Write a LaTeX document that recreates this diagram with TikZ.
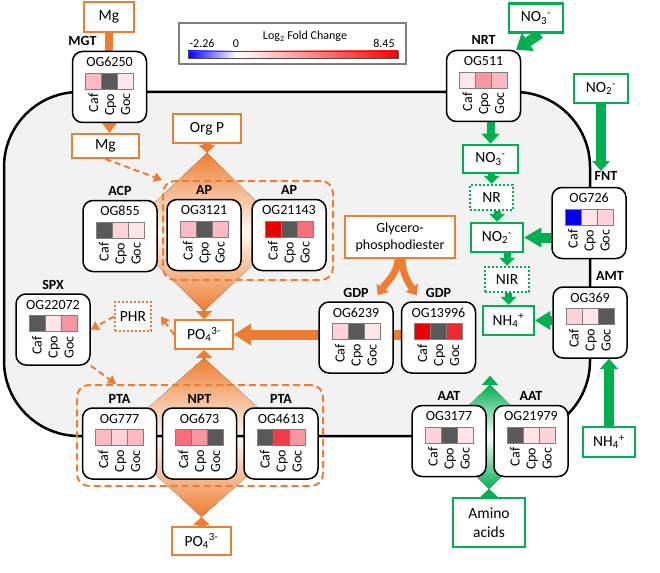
\documentclass[tikz,border=0pt]{standalone}
\usepackage{fontspec}
\setmainfont{Carlito}
\usepackage{xcolor}
\definecolor{orng}{RGB}{237,125,49}
\definecolor{grn}{RGB}{0,176,80}
\definecolor{memb}{RGB}{242,242,242}
\definecolor{cgray}{RGB}{89,89,89}
\definecolor{pa}{RGB}{255,228,232}
\definecolor{pb}{RGB}{255,210,216}
\definecolor{pc}{RGB}{252,185,193}
\definecolor{pd}{RGB}{248,150,160}
\definecolor{pe}{RGB}{246,110,120}
\definecolor{pf}{RGB}{240,60,70}
\definecolor{pg}{RGB}{240,40,50}
\definecolor{cred}{RGB}{235,0,0}
\definecolor{cblue}{RGB}{0,0,235}
\usepackage{tikz}
\usetikzlibrary{arrows.meta,positioning,calc,backgrounds}

\newcommand{\genebox}[6]{%
  \node[gb] (#1) at (#2) {};
  \node[gt] (#1-n) at ([yshift=25pt]#1.center) {#3};
  \node[cell,fill=#5] (#1-b) at ([yshift=6pt]#1.center) {};
  \node[cell,fill=#4] (#1-a) at ([xshift=-16pt]#1-b.center) {};
  \node[cell,fill=#6] (#1-c) at ([xshift=16pt]#1-b.center) {};
  \node[sp] (#1-x) at ([yshift=-12.5pt]#1-a.center) {Caf};
  \node[sp] (#1-y) at ([yshift=-12.5pt]#1-b.center) {Cpo};
  \node[sp] (#1-z) at ([yshift=-12.5pt]#1-c.center) {Goc};
}

\begin{document}
\begin{tikzpicture}[x=1pt,y=-1pt,
    gb/.style={draw,line width=1.5pt,fill=white,rounded corners=10pt,
               minimum width=74pt,minimum height=71pt},
    gt/.style={inner sep=0pt,text height=9pt,text depth=0pt,font=\fontsize{14}{16}\selectfont},
    cell/.style={draw=gray,line width=0.8pt,minimum size=16pt,inner sep=0pt},
    sp/.style={rotate=90,anchor=east,inner sep=0pt,text height=9pt,text depth=0pt,
               font=\fontsize{14}{16}\selectfont},
    tag/.style={inner sep=0pt,text height=9pt,text depth=0pt,font=\fontsize{14}{16}\selectfont\bfseries},
    ob/.style={draw=orng,line width=2pt,fill=white,inner sep=0pt,font=\fontsize{15.5}{17}\selectfont},
    gbx/.style={draw=grn,line width=2.5pt,fill=white,inner sep=0pt,font=\fontsize{15.5}{17}\selectfont},
    dotb/.style={dash pattern=on 2pt off 2pt},
    grp/.style={draw=orng,line width=2pt,dash pattern=on 7pt off 4pt,rounded corners=12pt},
    oarr/.style={draw=orng,line width=8pt,-{Triangle[length=10pt,width=18pt,line width=0pt]}},
    garr/.style={draw=grn,line width=8pt,-{Triangle[length=10pt,width=18pt,line width=0pt]}},
    odash/.style={draw=orng,line width=2pt,dash pattern=on 6pt off 4pt,
                  -{Triangle[length=8pt,width=10pt,line width=0pt]}}]
  \useasboundingbox (0,0) rectangle (660,572);
  \coordinate (mnw) at (4,92);
  \coordinate (mse) at (590,436);
  \begin{scope}[on background layer]
    \fill[memb,rounded corners=75pt] (mnw) rectangle (mse);
  \end{scope}

  \node[draw=gray,line width=1.5pt,fill=white,minimum width=227pt,minimum height=41pt,inner sep=0pt]
    (leg) at (292.5,43.5) {};
  \node[gt,font=\fontsize{12}{14}\selectfont] (leg-t) at (305,35) {Log\textsubscript{2} Fold Change};
  \node[gt,font=\fontsize{12}{14}\selectfont] (leg-lo) at (202,43) {-2.26};
  \node[gt,font=\fontsize{12}{14}\selectfont] (leg-0) at (236,43) {0};
  \node[gt,font=\fontsize{12}{14}\selectfont] (leg-hi) at (384,43) {8.45};
  \shade[left color=blue,right color=white] (188,51) rectangle (236,58);
  \shade[left color=white,right color=red] (236,51) rectangle (398,58);
  \draw[line width=0.6pt,gray!60!black] (188,51) rectangle (398,58);

  \genebox{og6250}{109.5,87}{OG6250}{pc}{cgray}{pa}
  \genebox{og855}{120,236}{OG855}{cgray}{pb}{pa}
  \genebox{og3121}{204,235}{OG3121}{pc}{cgray}{pc}
  \genebox{og21143}{289,235}{OG21143}{cred}{cgray}{pe}
  \genebox{og22072}{53,329.5}{OG22072}{cgray}{pa}{pd}
  \genebox{og6239}{356,337.5}{OG6239}{pb}{cgray}{pa}
  \genebox{og13996}{438.5,337.5}{OG13996}{cred}{cgray}{pg}
  \genebox{og511}{483.5,86}{OG511}{pa}{pd}{pc}
  \genebox{og726}{589,223}{OG726}{cblue}{pa}{pb}
  \genebox{og369}{590,322.5}{OG369}{pb}{pa}{cgray}
  \genebox{og777}{119.5,443.5}{OG777}{pc}{pb}{pc}
  \genebox{og673}{199.5,443.5}{OG673}{pe}{pd}{cgray}
  \genebox{og4613}{281,443.5}{OG4613}{cgray}{pf}{pd}
  \genebox{og3177}{449,441}{OG3177}{pb}{cgray}{pa}
  \genebox{og21979}{531,441}{OG21979}{cgray}{pa}{pb}

  \node[tag,anchor=south] (og6250-l) at ([xshift=-27pt,yshift=5pt]og6250.north) {MGT};
  \node[tag,above=4pt of og855] (og855-l) {ACP};
  \node[tag,above=4pt of og3121] (og3121-l) {AP};
  \node[tag,above=4pt of og21143] (og21143-l) {AP};
  \node[tag,above=4pt of og22072] (og22072-l) {SPX};
  \node[tag,above=4pt of og6239] (og6239-l) {GDP};
  \node[tag,above=4pt of og13996] (og13996-l) {GDP};
  \node[tag,above=5pt of og511] (og511-l) {NRT};
  \node[tag,anchor=south] (og726-l) at ([xshift=17pt,yshift=6.5pt]og726.north) {FNT};
  \node[tag,anchor=south] (og369-l) at ([xshift=20pt,yshift=5.5pt]og369.north) {AMT};
  \node[tag,above=4pt of og777] (og777-l) {PTA};
  \node[tag,above=4pt of og673] (og673-l) {NPT};
  \node[tag,above=4pt of og4613] (og4613-l) {PTA};
  \node[tag,above=4pt of og3177] (og3177-l) {AAT};
  \node[tag,above=4pt of og21979] (og21979-l) {AAT};

  \node[ob,minimum width=50pt,minimum height=30pt] (mgo) at (109,17) {Mg};
  \node[ob,minimum width=67pt,minimum height=24pt] (mgi) at (105.5,146) {Mg};
  \node[ob,minimum width=68pt,minimum height=29pt] (orgp) at (207,128.5) {Org P};
  \node[ob,minimum width=110pt,minimum height=42pt,align=center,font=\fontsize{14}{17}\selectfont]
    (glyc) at (400,237) {Glycero-\\phosphodiester};
  \node[ob,minimum width=58pt,minimum height=29pt] (po4) at (204,334.5) {PO\textsubscript{4}\textsuperscript{3-}};
  \node[ob,minimum width=59pt,minimum height=28pt] (po4b) at (201.5,541) {PO\textsubscript{4}\textsuperscript{3-}};
  \node[ob,dotb,minimum width=36pt,minimum height=29pt] (phr) at (133,316.5) {PHR};

  \node[gbx,minimum width=54pt,minimum height=29pt] (no3o) at (536,18) {NO\textsubscript{3}\textsuperscript{-}};
  \node[gbx,minimum width=55pt,minimum height=28pt] (no3i) at (490.5,159) {NO\textsubscript{3}\textsuperscript{-}};
  \node[gbx,dotb,minimum width=43pt,minimum height=25pt] (nr) at (491.5,197.5) {NR};
  \node[gbx,minimum width=52pt,minimum height=29pt] (no2i) at (497,237.5) {NO\textsubscript{2}\textsuperscript{-}};
  \node[gbx,dotb,minimum width=44pt,minimum height=25pt] (nir) at (507,279.5) {NIR};
  \node[gbx,minimum width=51pt,minimum height=29pt] (nh4i) at (508.5,320.5) {NH\textsubscript{4}\textsuperscript{+}};
  \node[gbx,minimum width=54pt,minimum height=29pt] (no2o) at (601,88.5) {NO\textsubscript{2}\textsuperscript{-}};
  \node[gbx,minimum width=52pt,minimum height=30pt] (nh4o) at (609,442) {NH\textsubscript{4}\textsuperscript{+}};
  \node[gbx,minimum width=72pt,minimum height=49pt,align=center,font=\fontsize{15.5}{19}\selectfont]
    (amino) at (489,522.5) {Amino\\acids};

  \node[grp,minimum width=170pt,minimum height=99pt] (apg) at (248,230.5) {};
  \node[grp,minimum width=246pt,minimum height=101pt] (ptg) at (200,435.5) {};

  \begin{scope}[on background layer]
    \coordinate (d1t) at ([yshift=-9pt]orgp.south);
    \coordinate (d1b) at ([yshift=8pt]po4.north);
    \fill[top color=orng,bottom color=orng,middle color=orng!6] (d1t) -- ($(d1t)!.5!(d1b)+(-82,0)$)
      -- (d1b) -- ($(d1t)!.5!(d1b)+(82,0)$) -- cycle;
    \coordinate (d2t) at ([yshift=-8pt]po4.south);
    \coordinate (d2b) at ([yshift=9pt]po4b.north);
    \fill[top color=orng,bottom color=orng,middle color=orng!6] (d2t) -- ($(d2t)!.5!(d2b)+(-88,0)$)
      -- (d2b) -- ($(d2t)!.5!(d2b)+(88,0)$) -- cycle;
    \draw[line width=2.5pt,rounded corners=75pt] (mnw) rectangle (mse);
    \coordinate (d3t) at ($(og3177.north east)!.5!(og21979.north west)+(0,-20)$);
    \coordinate (d3b) at ([yshift=8pt]amino.north);
    \fill[top color=grn,bottom color=grn,middle color=white] (d3t) -- ($(d3t)!.5!(d3b)+(-53,0)$)
      -- (d3b) -- ($(d3t)!.5!(d3b)+(53,0)$) -- cycle;
    \coordinate (aain) at ([yshift=9pt]d3t);

    \draw[draw=orng,line width=8pt] (mgo.south) -- (mgo.south |- og6250.north);
    \draw[oarr,-{Triangle[length=10pt,width=15pt,line width=0pt]}] (og6250.south) -- (og6250.south |- mgi.north);
    \draw[oarr,-{Triangle[length=8pt,width=17pt,line width=0pt]}] (orgp.south) -- (d1t);
    \draw[oarr,-{Triangle[length=8pt,width=17pt,line width=0pt]}] (d1b) -- (po4.north);
    \draw[oarr,-{Triangle[length=8pt,width=17pt,line width=0pt]}] (po4b.north) -- (d2b);
    \draw[oarr,-{Triangle[length=8pt,width=17pt,line width=0pt]}] (d2t) -- (po4.south);
    \draw[oarr,line width=10pt,-{Triangle[length=17pt,width=22pt,line width=0pt]}]
      (og13996.center |- po4.east) -- (po4.east);
    \draw[oarr,line width=7pt,-{Triangle[length=9pt,width=15pt,line width=0pt]}]
      ([xshift=-2pt]glyc.south) .. controls +(0,14) and +(8,-12) .. ([xshift=-16pt,yshift=6pt]og6239.north east);
    \draw[oarr,line width=7pt,-{Triangle[length=9pt,width=15pt,line width=0pt]}]
      ([xshift=2pt]glyc.south) .. controls +(0,14) and +(-8,-12) .. ([xshift=16pt,yshift=6pt]og13996.north west);
    \draw[odash] (mgi.south) -- (apg.north west);
    \draw[odash] (po4.west) -- ([xshift=9pt]phr.east);
    \draw[odash] (phr.west) -- (og22072.east);
    \draw[odash] (og22072.south east) -- ([xshift=40pt]ptg.north west);

    \draw[garr,line width=10pt,-{Triangle[length=14pt,width=22pt,line width=0pt]}]
      ([xshift=4pt]no3o.south) -- ([xshift=-5pt]og511.north east);
    \draw[garr] (og511.south -| no3i.north) -- (no3i.north);
    \draw[garr,line width=7pt,-{Triangle[length=8pt,width=16pt,line width=0pt]}] (no3i.south -| nr.north) -- (nr.north);
    \draw[garr,line width=7pt,-{Triangle[length=8pt,width=16pt,line width=0pt]}] (nr.south -| no2i.north) -- (no2i.north);
    \draw[garr,line width=7pt,-{Triangle[length=8pt,width=16pt,line width=0pt]}] (no2i.south -| nir.north) -- (nir.north);
    \draw[garr,line width=7pt,-{Triangle[length=8pt,width=16pt,line width=0pt]}] (nir.south -| nh4i.north) -- (nh4i.north);
    \draw[garr,line width=10pt] (no2o.south) -- (no2o.south |- og726-l.north);
    \draw[garr,line width=10pt,-{Triangle[length=17pt,width=20pt,line width=0pt]}] (og726.west |- no2i.east) -- (no2i.east);
    \draw[garr,line width=9pt,-{Triangle[length=15pt,width=19pt,line width=0pt]}] (og369.west |- nh4i.east) -- (nh4i.east);
    \draw[garr,line width=10pt] (nh4o.north) -- (nh4o.north |- og369.south);
    \draw[garr,line width=7pt,-{Triangle[length=9pt,width=16pt,line width=0pt]}] (d3t) -- (aain);
    \draw[garr,line width=7pt,-{Triangle[length=8pt,width=17pt,line width=0pt]}] (amino.north) -- (d3b);
  \end{scope}
\end{tikzpicture}
\end{document}
